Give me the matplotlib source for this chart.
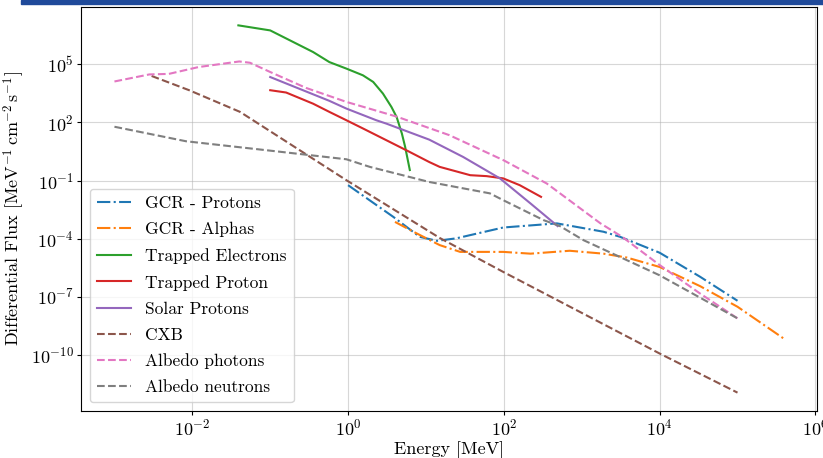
import numpy as np
import matplotlib
matplotlib.use("Agg")
import matplotlib.pyplot as plt
from matplotlib.patches import Rectangle
from matplotlib.ticker import NullLocator

plt.rcParams['font.family'] = 'serif'
plt.rcParams['font.serif'] = ['cmr10']
plt.rcParams['mathtext.fontset'] = 'cm'
plt.rcParams['axes.formatter.use_mathtext'] = True
plt.rcParams['axes.unicode_minus'] = False

# energies in MeV, fluxes in MeV^-1 cm^-2 s^-1
gcr_p_e = [1.0, 3.8, 8.3, 13.8, 24.5, 98, 480, 1.9e3, 3.1e3, 1e4, 3.3e4, 1e5]
gcr_p_f = [5.8e-2, 1.35e-3, 1.26e-4, 7.8e-5, 1.05e-4, 3.8e-4, 6.2e-4, 2.3e-4, 1.26e-4, 1.9e-5, 1.1e-6, 6.3e-8]

gcr_a_e = [4.0, 6.9, 15, 27.5, 98, 220, 700, 1.9e3, 3.8e3, 1e4, 3.3e4, 1e5, 3.9e5]
gcr_a_f = [7.4e-4, 2.3e-4, 4.7e-5, 2.1e-5, 2.1e-5, 1.7e-5, 2.4e-5, 1.7e-5, 1.07e-5, 3.5e-6, 3.6e-7, 3.1e-8, 7.2e-10]

trap_e_e = [0.039, 0.1, 0.355, 0.575, 0.95, 1.55, 2.1, 2.8, 3.6, 4.2, 4.9, 5.4, 6.2]
trap_e_f = [1.02e7, 5.6e6, 4.3e5, 1.3e5, 6.0e4, 2.7e4, 1.23e4, 3.1e3, 6.3e2, 1.9e2, 27, 5.5, 3.5e-1]

trap_p_e = [0.1, 0.16, 0.355, 0.575, 0.95, 1.55, 5.9, 11, 15, 37, 60, 98, 160, 300]
trap_p_f = [4.6e3, 3.5e3, 9.3e2, 3.5e2, 1.3e2, 49, 3.3, 0.91, 0.51, 0.19, 0.17, 0.13, 5.8e-2, 1.45e-2]

solar_e = [0.1, 0.575, 0.95, 2.3, 3.1, 11, 30, 89, 220, 490]
solar_f = [2.2e4, 1.3e3, 5.2e2, 1.3e2, 87, 13, 1.66, 0.13, 6.6e-3, 4.5e-4]

cxb_e = [0.003, 0.0091, 0.041, 0.95, 15, 98, 1e4, 1e5]
cxb_f = [2.5e4, 4.6e3, 3.5e2, 0.105, 1.1e-4, 1.95e-6, 1.2e-10, 1.15e-12]

alb_ph_e = [1e-3, 2.8e-3, 5e-3, 1.2e-2, 4e-2, 5.5e-2, 0.1, 0.29, 0.95, 4.2, 20, 100, 355, 1740, 3300, 1e4, 3.3e4, 1e5]
alb_ph_f = [1.3e4, 3.0e4, 3.2e4, 7.2e4, 1.4e5, 1.2e5, 4.0e4, 6.0e3, 1.15e3, 2.0e2, 22, 1.1, 7.1e-2, 6.2e-4, 1.26e-4, 4.4e-6, 1.5e-7, 7.8e-9]

alb_n_e = [1e-3, 8.3e-3, 0.089, 0.95, 1.9, 11, 66, 98, 324, 525, 1.05e3, 1e4, 1e5]
alb_n_f = [60, 10.7, 3.7, 1.26, 0.51, 8.5e-2, 2.2e-2, 9.8e-3, 9.1e-4, 4.5e-4, 8.5e-5, 1.3e-6, 7.8e-9]

fig = plt.figure(figsize=(8.23, 4.58), dpi=100)
ax = fig.add_axes([81/823, 1 - 411/458, (817 - 81)/823, (411 - 7)/458])

ax.plot(gcr_p_e, gcr_p_f, '-.', color='C0', label='GCR - Protons')
ax.plot(gcr_a_e, gcr_a_f, '-.', color='C1', label='GCR - Alphas')
ax.plot(trap_e_e, trap_e_f, '-', color='C2', label='Trapped Electrons')
ax.plot(trap_p_e, trap_p_f, '-', color='C3', label='Trapped Proton')
ax.plot(solar_e, solar_f, '-', color='C4', label='Solar Protons')
ax.plot(cxb_e, cxb_f, '--', color='C5', label='CXB')
ax.plot(alb_ph_e, alb_ph_f, '--', color='C6', label='Albedo photons')
ax.plot(alb_n_e, alb_n_f, '--', color='C7', label='Albedo neutrons')

ax.set_xscale('log')
ax.set_yscale('log')
ax.xaxis.set_minor_locator(NullLocator())
ax.yaxis.set_minor_locator(NullLocator())
ax.tick_params(labelsize=13, length=3, pad=2)
ax.set_xlabel('Energy [MeV]', fontsize=13, labelpad=2)
ax.set_ylabel(r'Differential Flux [$\mathrm{MeV}^{-1}\,\mathrm{cm}^{-2}\,\mathrm{s}^{-1}$]',
              fontsize=13, labelpad=3)
ax.grid(True, alpha=0.5)
ax.legend(loc='lower left', fontsize=12.5, labelspacing=0.62)

# header strip of the slide
fig.add_artist(Rectangle((21/823, 1 - 4/458), 1, 4/458, transform=fig.transFigure,
                         color='#1f4a9a', clip_on=False))

plt.savefig('out.png', dpi=100)
